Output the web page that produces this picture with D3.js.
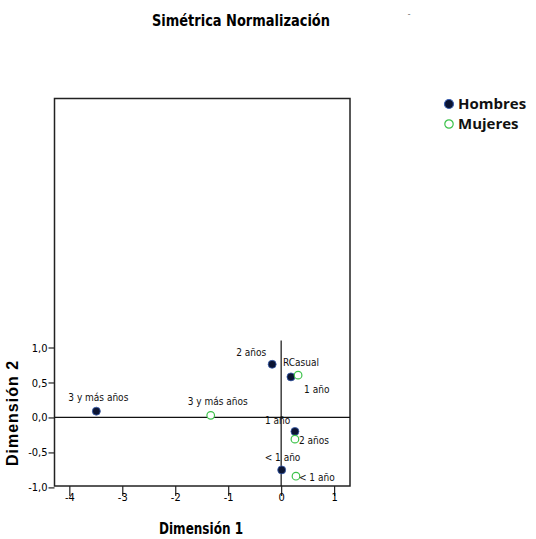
<!DOCTYPE html>
<html>
<head>
<meta charset="utf-8">
<script src="https://cdn.jsdelivr.net/npm/d3@7"></script>
<style>
  body { margin: 0; background: #fff; }
  .narrow { font-family: "Liberation Sans Narrow", "DejaVu Sans Condensed", sans-serif; }
</style>
</head>
<body>
<div id="chart"></div>
<script>
// data
var hombresLabels = ["3 y más años", "2 años", "RCasual", "1 año", "< 1 año"];
var hombresX = [-3.49, -0.17, 0.185, 0.26, 0.01];
var hombresY = [0.09, 0.76, 0.58, -0.20, -0.75];

var mujeresLabels = ["3 y más años", "1 año", "2 años", "< 1 año"];
var mujeresX = [-1.33, 0.32, 0.26, 0.28];
var mujeresY = [0.03, 0.605, -0.31, -0.84];

var xTicks = [-4, -3, -2, -1, 0, 1];
var yTicks = [-1.0, -0.5, 0.0, 0.5, 1.0];
var xDomain = [-4.28, 1.30];
var yDomain = [-0.98, 4.56];
var refTop = 1.1;   // vertical reference line only goes up to here

var seriesNames = ["Hombres", "Mujeres"];

// label placement (dx, dy, anchor) per point
var hombresOffsets = [[2, -10, "middle"], [-6, -8, "end"], [-8, -11, "start"], [-30, -7, "start"], [-17, -9, "start"]];
var mujeresOffsets = [[-23, -10, "start"], [6, 18, "start"], [4, 5, "start"], [3, 5, "start"]];

var width = 536;
var height = 539;

var svg = d3.select('#chart')
  .append("svg")
  .attr("width", width)
  .attr("height", height)

var x = d3.scaleLinear().domain(xDomain).range([54.5, 350])
var y = d3.scaleLinear().domain(yDomain).range([486, 98.5])

var fmt = function (d) { return d3.format(".1f")(d).replace(".", ",").replace("−", "-") }

// title
svg.append("text")
  .attr("class", "narrow")
  .attr("x", 152)
  .attr("y", 26)
  .attr("font-size", 16)
  .attr("font-weight", "bold")
  .attr("textLength", 178)
  .attr("lengthAdjust", "spacingAndGlyphs")
  .text("Simétrica Normalización")

svg.append("text")
  .attr("x", 409)
  .attr("y", 17)
  .attr("text-anchor", "middle")
  .attr("font-size", 8)
  .attr("fill", "#555")
  .text("-")

// frame
svg.append("rect")
  .attr("x", x(xDomain[0]))
  .attr("y", y(yDomain[1]))
  .attr("width", x(xDomain[1]) - x(xDomain[0]))
  .attr("height", y(yDomain[0]) - y(yDomain[1]))
  .attr("fill", "none")
  .attr("stroke", "#222")
  .attr("stroke-width", 1.5)

// reference lines
svg.append("line")
  .attr("x1", x(xDomain[0])).attr("x2", x(xDomain[1]))
  .attr("y1", y(0)).attr("y2", y(0))
  .attr("stroke", "#111").attr("stroke-width", 1.2)

svg.append("line")
  .attr("x1", x(0)).attr("x2", x(0))
  .attr("y1", y(refTop)).attr("y2", y(yDomain[0]))
  .attr("stroke", "#111").attr("stroke-width", 1.2)

// axes
var xAxis = d3.axisBottom(x).tickValues(xTicks).tickSize(10).tickFormat(function (d) { return d3.format("d")(d).replace("−", "-") })
var gx = svg.append("g")
  .attr("class", "narrow")
  .attr("transform", "translate(0," + y(yDomain[0]) + ")")
  .call(xAxis)
gx.select(".domain").remove()
gx.selectAll("line").attr("stroke", "#222").attr("stroke-width", 1.2)
gx.selectAll("text").attr("font-size", 11).attr("dy", "0.2em").attr("font-family", null)

var yAxis = d3.axisLeft(y).tickValues(yTicks).tickSize(6).tickFormat(fmt)
var gy = svg.append("g")
  .attr("class", "narrow")
  .attr("transform", "translate(" + x(xDomain[0]) + ",0)")
  .call(yAxis)
gy.select(".domain").remove()
gy.selectAll("line").attr("stroke", "#222").attr("stroke-width", 1.2)
gy.selectAll("text").attr("font-size", 11).attr("x", -7).attr("font-family", null)

// axis titles
svg.append("text")
  .attr("class", "narrow")
  .attr("x", 159)
  .attr("y", 534)
  .attr("font-size", 16)
  .attr("font-weight", "bold")
  .attr("textLength", 84)
  .attr("lengthAdjust", "spacingAndGlyphs")
  .text("Dimensión 1")

svg.append("text")
  .attr("transform", "translate(18,413) rotate(-90)")
  .attr("text-anchor", "middle")
  .attr("font-family", "Liberation Sans, Arial, sans-serif")
  .attr("font-size", 16)
  .attr("font-weight", "bold")
  .attr("letter-spacing", 1)
  .text("Dimensión 2")

// points
var hombres = hombresLabels.map(function (d, i) {
  return { label: d, x: hombresX[i], y: hombresY[i], off: hombresOffsets[i] }
})
var mujeres = mujeresLabels.map(function (d, i) {
  return { label: d, x: mujeresX[i], y: mujeresY[i], off: mujeresOffsets[i] }
})

svg.selectAll(".h")
  .data(hombres)
  .enter()
  .append("circle")
  .attr("class", "h")
  .attr("cx", function (d) { return x(d.x) })
  .attr("cy", function (d) { return y(d.y) })
  .attr("r", 4)
  .attr("fill", "#0b1433")
  .attr("stroke", "#3a5fb0")
  .attr("stroke-width", 0.8)

svg.selectAll(".m")
  .data(mujeres)
  .enter()
  .append("circle")
  .attr("class", "m")
  .attr("cx", function (d) { return x(d.x) })
  .attr("cy", function (d) { return y(d.y) })
  .attr("r", 3.8)
  .attr("fill", "#fff")
  .attr("stroke", "#3cc24a")
  .attr("stroke-width", 1.2)

svg.selectAll(".lab")
  .data(hombres.concat(mujeres))
  .enter()
  .append("text")
  .attr("class", "lab narrow")
  .attr("x", function (d) { return x(d.x) + d.off[0] })
  .attr("y", function (d) { return y(d.y) + d.off[1] })
  .attr("text-anchor", function (d) { return d.off[2] })
  .attr("font-size", 10)
  .attr("fill", "#111")
  .text(function (d) { return d.label })

// legend
var legend = svg.selectAll(".legend")
  .data(seriesNames)
  .enter()
  .append("g")
  .attr("class", "legend")
  .attr("transform", function (d, i) { return "translate(449," + (104 + i * 20) + ")" })

legend.append("circle")
  .attr("r", function (d, i) { return i === 0 ? 4.5 : 4.2 })
  .attr("fill", function (d, i) { return i === 0 ? "#0b1433" : "#fff" })
  .attr("stroke", function (d, i) { return i === 0 ? "#3a5fb0" : "#3cc24a" })
  .attr("stroke-width", 1.2)

legend.append("text")
  .attr("x", 9)
  .attr("y", 5)
  .attr("font-family", "Open Sans, sans-serif")
  .attr("font-size", 15)
  .attr("font-weight", "bold")
  .attr("fill", "#111")
  .text(function (d) { return d })
</script>
</body>
</html>
